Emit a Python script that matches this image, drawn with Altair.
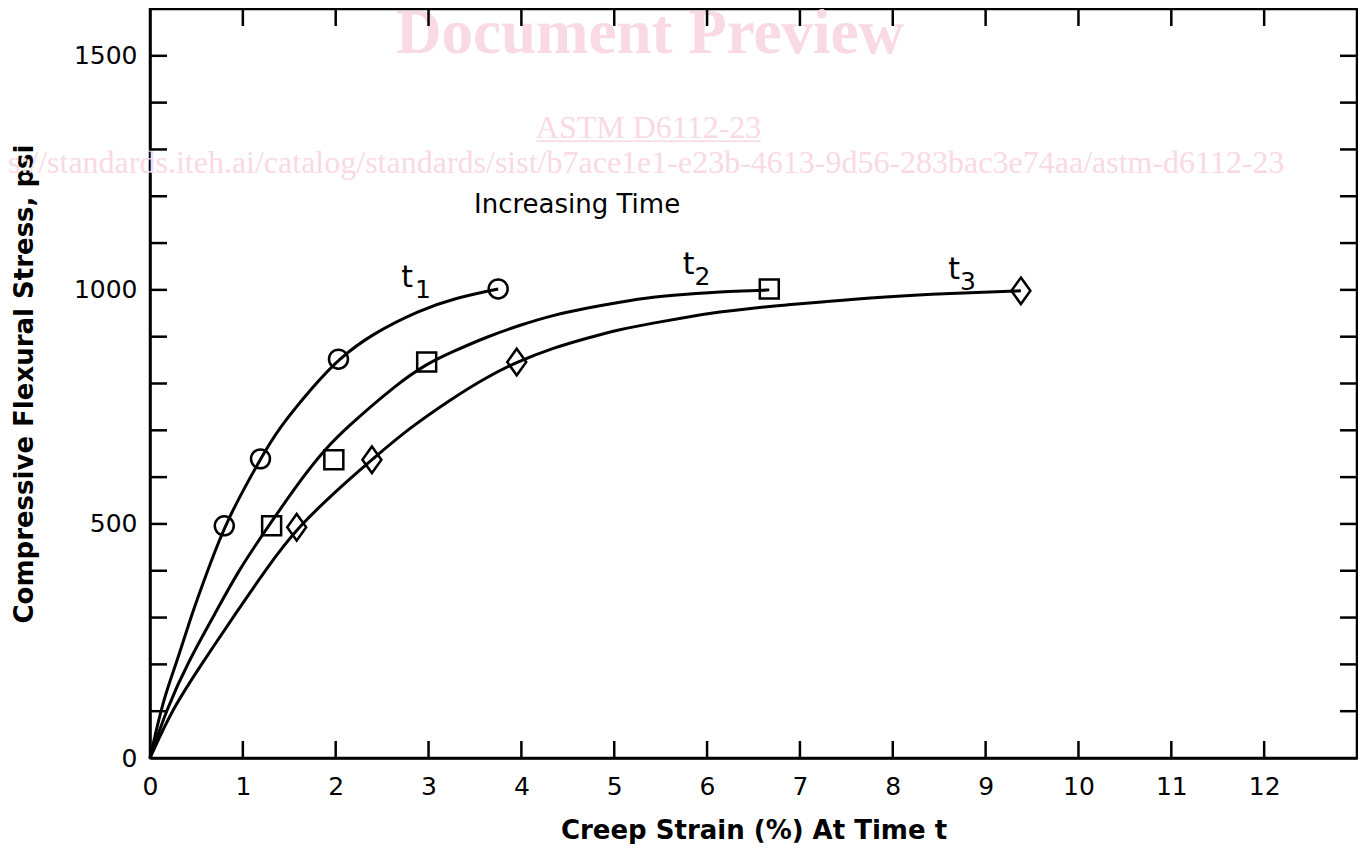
import altair as alt
import pandas as pd

# ---- curve traces (strain %, stress psi) ----
t1_x = [0, 0.14, 0.29, 0.45, 0.62, 0.82, 1.19, 1.38, 1.78, 2.03, 2.39, 2.91, 3.26, 3.75]
t1_y = [0, 124, 205, 308, 400, 506, 639, 703, 799, 852, 906, 957, 981, 1002]
t2_x = [0, 0.18, 0.41, 0.70, 0.95, 1.29, 1.67, 1.88, 2.10, 2.66, 2.98, 3.26, 3.63, 3.99,
        4.34, 4.70, 5.06, 5.42, 5.78, 6.14, 6.49, 6.67]
t2_y = [0, 105, 205, 308, 400, 500, 607, 658, 703, 799, 842, 868, 900, 925,
        946, 961, 974, 985, 991, 996, 998, 1000]
t3_x = [0, 0.24, 0.57, 0.92, 1.24, 1.58, 2.21, 2.39, 2.78, 3.26, 3.63, 3.95, 4.34, 4.71,
        5.06, 5.42, 5.78, 6.14, 6.49, 6.86, 7.22, 7.86, 8.62, 9.38]
t3_y = [0, 105, 205, 308, 400, 493, 607, 637, 703, 769, 814, 846, 876, 897,
        916, 929, 942, 953, 961, 968, 974, 985, 993, 998]

# ---- measured points (markers) ----
m1_x = [0.80, 1.19, 2.03, 3.75]
m1_y = [496, 639, 852, 1002]
m2_x = [1.31, 1.98, 2.98, 6.67]
m2_y = [496, 637, 846, 1002]
m3_x = [1.58, 2.39, 3.95, 9.38]
m3_y = [493, 637, 846, 998]

series_names = ["t1", "t2", "t3"]

# ---- axis ticks ----
x_label_values = list(range(0, 13))
y_label_values = [0, 500, 1000, 1500]
x_minor = list(range(1, 13))
y_minor = list(range(100, 1600, 100))

# ---- annotations ----
ann_text = ["Increasing Time"]
ann_x = [4.60]
ann_y = [1181]
tlab_text = ["t", "t", "t"]
tlab_x = [2.77, 5.80, 8.66]
tlab_y = [1025, 1053, 1042]
sub_text = ["1", "2", "3"]
sub_x = [2.94, 5.95, 8.81]
sub_y = [1000, 1028, 1017]

# ---- watermark texts ----
wm_big = ["Document Preview"]
wm_big_x = [5.385]
wm_big_y = [1507]
wm_mid = ["ASTM D6112-23"]
wm_mid_under = ["______________"]
wm_mid_x = [5.37]
wm_mid_y = [1324]
wm_url = ["https://standards.iteh.ai/catalog/standards/sist/b7ace1e1-e23b-4613-9d56-283bac3e74aa/astm-d6112-23"]
wm_url_x = [12.22]
wm_url_y = [1250]

rows = []
for name, xs, ys in zip(series_names, [t1_x, t2_x, t3_x], [t1_y, t2_y, t3_y]):
    for i, (a, b) in enumerate(zip(xs, ys)):
        rows.append({"series": name, "x": a, "y": b, "i": i})
curves = pd.DataFrame(rows)

mrows = []
for name, xs, ys in zip(series_names, [m1_x, m2_x, m3_x], [m1_y, m2_y, m3_y]):
    for a, b in zip(xs, ys):
        mrows.append({"series": name, "x": a, "y": b})
markers = pd.DataFrame(mrows)

XS = alt.Scale(domain=[0, 13], nice=False, zero=False)
YS = alt.Scale(domain=[0, 1600], nice=False, zero=False)

LABEL_FONT = "DejaVu Sans"
TITLE_FONT = "DejaVu Sans"
WM_COLOR = "#f9d9e3"

X_AXIS = alt.Axis(values=x_label_values, ticks=False, grid=False, format="d",
                  labelFlush=False,
                  labelFont=LABEL_FONT, labelFontSize=25, labelColor="black",
                  labelPadding=16, domainColor="black", domainWidth=2.5,
                  title="Creep Strain (%) At Time t", titleFont=TITLE_FONT,
                  titleFontSize=26, titleFontWeight="bold", titleColor="black",
                  titleBaseline="alphabetic", titleY=80)
Y_AXIS = alt.Axis(values=y_label_values, ticks=False, grid=False, format="d",
                  labelFlush=False,
                  labelFont=LABEL_FONT, labelFontSize=25, labelColor="black",
                  labelPadding=13, domainColor="black", domainWidth=2.5,
                  title="Compressive Flexural Stress, psi", titleFont=TITLE_FONT,
                  titleFontSize=26, titleFontWeight="bold", titleColor="black",
                  titlePadding=36)


def xq(field="x"):
    return alt.X(f"{field}:Q", scale=XS, axis=X_AXIS)


def yq(field="y"):
    return alt.Y(f"{field}:Q", scale=YS, axis=Y_AXIS)


def wm_text(xs, ys, texts, **kw):
    return alt.Chart(pd.DataFrame({"x": xs, "y": ys, "t": texts})).mark_text(
        font="Liberation Serif", color=WM_COLOR, baseline="alphabetic", **kw
    ).encode(x=xq(), y=yq(), text="t:N")


wm1 = wm_text(wm_big_x, wm_big_y, wm_big, fontSize=63, fontWeight="bold", align="center")
wm2 = wm_text(wm_mid_x, wm_mid_y, wm_mid, fontSize=32, align="center")
wm2u = wm_text(wm_mid_x, wm_mid_y, wm_mid_under, fontSize=32, align="center")
wm3 = wm_text(wm_url_x, wm_url_y, wm_url, fontSize=32, align="right")

lines = alt.Chart(curves).mark_line(interpolate="basis", strokeWidth=3, color="black").encode(
    x=xq(), y=yq(),
    detail="series:N",
    order="i:Q",
)

points = alt.Chart(markers).mark_point(filled=False, strokeWidth=2.5, size=360, color="black", opacity=1).encode(
    x=xq(), y=yq(),
    shape=alt.Shape("series:N", legend=None,
                    scale=alt.Scale(domain=series_names,
                                    range=["circle", "square", "M0,-1.4L1,0L0,1.4L-1,0Z"])),
)


def tick_layer(df, **kw):
    return alt.Chart(df).mark_tick(color="black", opacity=1, thickness=2.5, size=17, **kw)


bottom_ticks = tick_layer(pd.DataFrame({"v": x_minor}), orient="vertical", yOffset=-8.5).encode(
    x=xq("v"), y=alt.YDatum(0, scale=YS, axis=Y_AXIS))
top_ticks = tick_layer(pd.DataFrame({"v": x_minor}), orient="vertical", yOffset=8.5).encode(
    x=xq("v"), y=alt.YDatum(1600, scale=YS, axis=Y_AXIS))
left_ticks = tick_layer(pd.DataFrame({"v": y_minor}), orient="horizontal", xOffset=8.5).encode(
    y=yq("v"), x=alt.XDatum(0, scale=XS, axis=X_AXIS))
right_ticks = tick_layer(pd.DataFrame({"v": y_minor}), orient="horizontal", xOffset=-8.5).encode(
    y=yq("v"), x=alt.XDatum(13, scale=XS, axis=X_AXIS))

ann = alt.Chart(pd.DataFrame({"x": ann_x, "y": ann_y, "t": ann_text})).mark_text(
    font="DejaVu Sans", fontSize=26, color="black",
    align="center", baseline="middle").encode(x=xq(), y=yq(), text="t:N")
tl = alt.Chart(pd.DataFrame({"x": tlab_x, "y": tlab_y, "t": tlab_text})).mark_text(
    font="DejaVu Sans", fontSize=30, color="black",
    align="center", baseline="middle").encode(x=xq(), y=yq(), text="t:N")
sl = alt.Chart(pd.DataFrame({"x": sub_x, "y": sub_y, "t": sub_text})).mark_text(
    font="DejaVu Sans", fontSize=25, color="black",
    align="center", baseline="middle").encode(x=xq(), y=yq(), text="t:N")

chart = alt.layer(
    wm1, wm2, wm2u, wm3, lines, points, bottom_ticks, top_ticks, left_ticks, right_ticks, ann, tl, sl
).properties(
    width=1207, height=749,
    autosize=alt.AutoSizeParams(type="none"),
    padding={"left": 142, "top": 1, "right": 1, "bottom": 86},
    background="white",
).configure_view(
    stroke="black", strokeWidth=2.5
)

chart.save("out.html", embed_options={"renderer": "svg", "actions": False})
